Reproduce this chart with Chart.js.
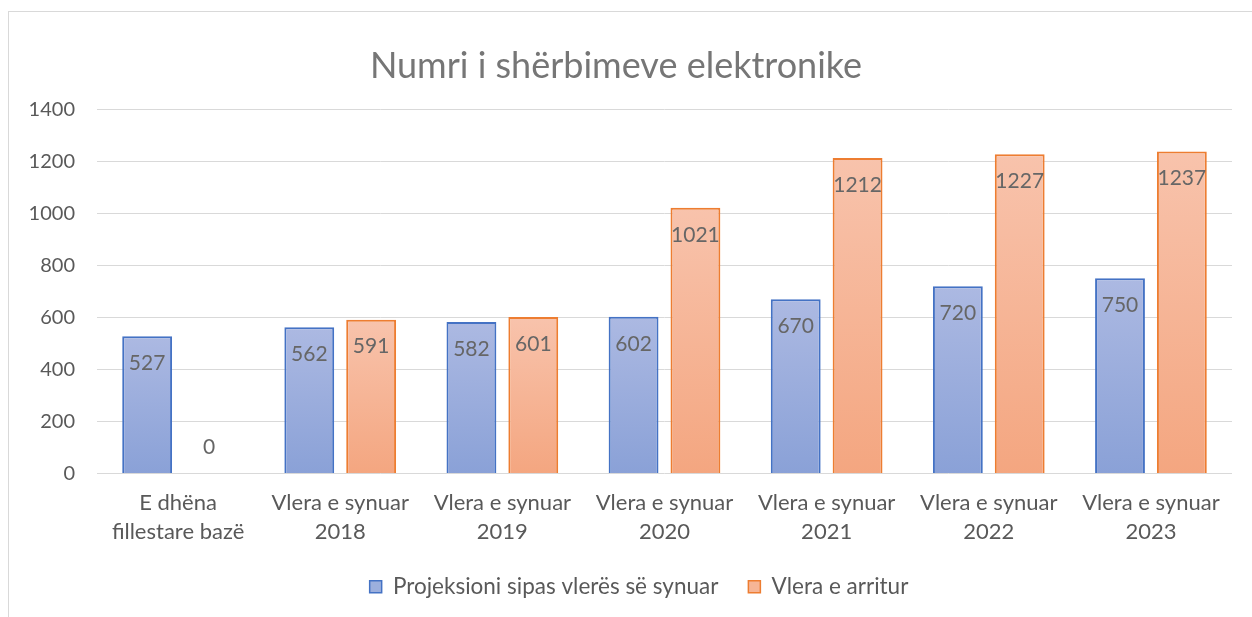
<!DOCTYPE html>
<html>
<head>
<meta charset="utf-8">
<script src="https://cdn.jsdelivr.net/npm/chart.js@4/dist/chart.umd.min.js"></script>
<style>
	html, body { margin: 0; padding: 0; background: #fff; }
	#frame {
		position: absolute;
		left: 8px;
		top: 11px;
		width: 1300px;
		height: 700px;
		border-left: 1px solid #d9d9d9;
		border-top: 1px solid #d9d9d9;
	}
	#wrap { position: absolute; left: 0; top: 0; width: 1252px; height: 617px; }
</style>
</head>
<body>
<div id="frame"></div>
<div id="wrap"><canvas id="chart-bar"></canvas></div>
<script>
// Chart data
const CATEGORIES = [
	["E dhëna", "fillestare bazë"],
	["Vlera e synuar", "2018"],
	["Vlera e synuar", "2019"],
	["Vlera e synuar", "2020"],
	["Vlera e synuar", "2021"],
	["Vlera e synuar", "2022"],
	["Vlera e synuar", "2023"],
];
const PROJECTED = [527, 562, 582, 602, 670, 720, 750];
const ACHIEVED = [0, 591, 601, 1021, 1212, 1227, 1237];
const Y_TICKS = [0, 200, 400, 600, 800, 1000, 1200, 1400];

const FONT = "Lato, 'Open Sans', sans-serif";
const TEXT = "#595959";

// gradient for each bar, over its own height
const barGradient = (top, bottom) => (ctx) => {
	const chart = ctx.chart;
	const y = chart.scales && chart.scales.y;
	if (!y || ctx.raw === undefined) return bottom;
	const y0 = y.getPixelForValue(0);
	const y1 = y.getPixelForValue(ctx.raw);
	if (y0 === y1 || !isFinite(y0) || !isFinite(y1)) return bottom;
	const g = chart.ctx.createLinearGradient(0, y1, 0, y0);
	g.addColorStop(0, top);
	g.addColorStop(1, bottom);
	return g;
};

// values drawn near the top, inside the bar
const valueLabels = {
	id: "valueLabels",
	afterLayout(chart) {
		// legend sits a bit right of the canvas centre
		if (chart.legend) {
			chart.legend.left += 23;
			chart.legend.right += 23;
		}
	},
	afterDatasetsDraw(chart) {
		const c = chart.ctx;
		c.save();
		c.font = `21px ${FONT}`;
		c.fillStyle = "#666666";
		c.textAlign = "center";
		c.textBaseline = "middle";
		chart.data.datasets.forEach((ds, i) => {
			chart.getDatasetMeta(i).data.forEach((bar, j) => {
				const v = ds.data[j];
				const ty = v > 0 ? bar.y + 27 : bar.y - 26;
				c.fillText(String(v), bar.x, ty);
			});
		});
		c.restore();
	},
};

const DATA = {
	labels: CATEGORIES,
	datasets: [
		{
			label: "Projeksioni sipas vlerës së synuar",
			data: PROJECTED,
			backgroundColor: barGradient("#acb9e2", "#8aa1d7"),
			borderColor: "#4472c4",
			borderWidth: 2,
			categoryPercentage: 0.763,
			barPercentage: 0.806,
		},
		{
			label: "Vlera e arritur",
			data: ACHIEVED,
			backgroundColor: barGradient("#f8c3ac", "#f4a680"),
			borderColor: "#ed7d31",
			borderWidth: (ctx) => (ctx.raw > 0 ? 2 : 0),
			categoryPercentage: 0.763,
			barPercentage: 0.806,
		},
	],
};

const LEGEND_FILL = ["#9cafdd", "#f6b595"];

const CONFIG = {
	type: "bar",
	data: DATA,
	options: {
		responsive: true,
		maintainAspectRatio: false,
		animation: false,
		layout: {
			padding: { left: 0, right: 20, top: 0, bottom: 9 },
		},
		plugins: {
			title: {
				display: true,
				text: "Numri i shërbimeve elektronike",
				color: "#767676",
				font: { family: FONT, size: 36, weight: "normal" },
				padding: { top: 45, bottom: 21 },
			},
			legend: {
				position: "bottom",
				labels: {
					color: TEXT,
					font: { family: FONT, size: 22.5 },
					boxWidth: 12,
					boxHeight: 12,
					padding: 30,
					generateLabels: (chart) =>
						chart.data.datasets.map((ds, i) => ({
							text: ds.label,
							fillStyle: LEGEND_FILL[i],
							strokeStyle: ds.borderColor,
							lineWidth: 1.5,
							fontColor: TEXT,
							datasetIndex: i,
						})),
				},
			},
			tooltip: { enabled: false },
		},
		scales: {
			x: {
				border: { display: false },
				grid: { display: false, drawTicks: false },
				ticks: {
					color: TEXT,
					font: { family: FONT, size: 22, lineHeight: 1.32 },
					padding: 15,
					maxRotation: 0,
					autoSkip: false,
				},
				afterFit: (s) => { s.height = 72; },
			},
			y: {
				min: 0,
				max: 1400,
				border: { display: false },
				grid: { color: "#d9d9d9", lineWidth: 1, drawTicks: false },
				afterBuildTicks: (s) => { s.ticks = Y_TICKS.map((v) => ({ value: v })); },
				ticks: {
					color: TEXT,
					font: { family: FONT, size: 20 },
					padding: 22,
					callback: (v) => String(v),
				},
				afterFit: (s) => { s.width = 97; },
			},
		},
	},
	plugins: [valueLabels],
};

const CHART_WRAPPER = document.getElementById("chart-bar");
if (CHART_WRAPPER) {
	new Chart(CHART_WRAPPER, CONFIG);
}
</script>
</body>
</html>
